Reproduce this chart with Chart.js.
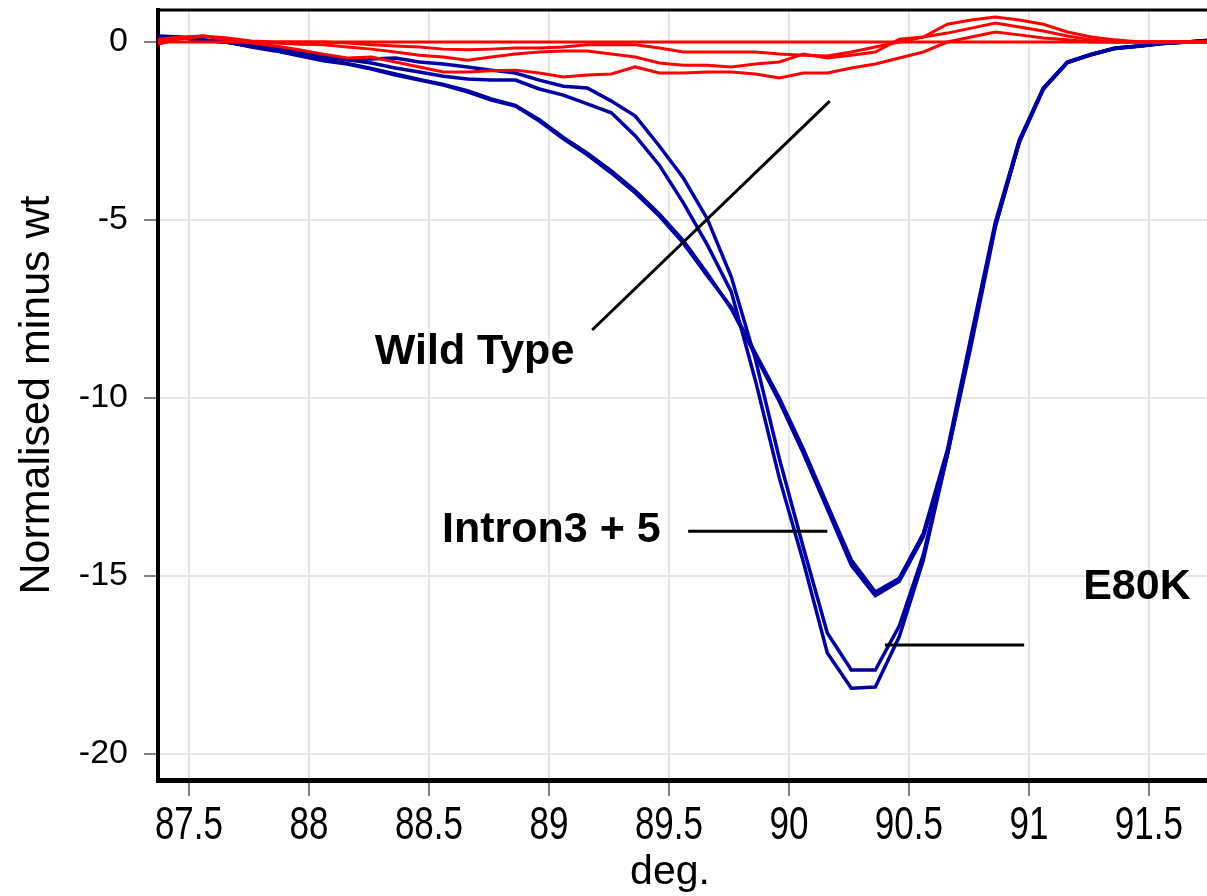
<!DOCTYPE html>
<html><head><meta charset="utf-8">
<script src="https://cdn.jsdelivr.net/npm/chart.js@4.4.1/dist/chart.umd.min.js"></script>
<style>html,body{margin:0;padding:0;background:#fff;}canvas{display:block;}</style>
</head><body>
<canvas id="c" width="1207" height="896"></canvas>
<script>
// ---- data ----
const degrees = [87.36,87.46,87.56,87.66,87.76,87.86,87.96,88.06,88.16,88.26,88.36,88.46,88.56,88.66,88.76,88.86,88.96,89.06,89.16,89.26,89.36,89.46,89.56,89.66,89.76,89.86,89.96,90.06,90.16,90.26,90.36,90.46,90.56,90.66,90.76,90.86,90.96,91.06,91.16,91.26,91.36,91.46,91.56,91.66,91.76];

const wtRef = [0,0,0,0,0,0,0,0,0,0,0,0,0,0,0,0,0,0,0,0,0,0,0,0,0,0,0,0,0,0,0,0,0,0,0,0,0,0,0,0,0,0,0,0,0];
const wt1 = [0.06,0.14,0.17,0.11,0.03,0.00,0.00,0.00,-0.03,-0.08,-0.11,-0.14,-0.20,-0.22,-0.20,-0.17,-0.17,-0.14,-0.08,-0.08,-0.08,-0.17,-0.28,-0.28,-0.28,-0.28,-0.34,-0.37,-0.39,-0.28,-0.14,0.00,0.14,0.25,0.39,0.53,0.42,0.31,0.17,0.06,0.00,0.00,0.00,0.00,0.00];
const wt2 = [0.00,0.11,0.17,0.08,0.00,-0.03,-0.06,-0.08,-0.14,-0.20,-0.28,-0.37,-0.42,-0.51,-0.42,-0.34,-0.28,-0.25,-0.25,-0.34,-0.42,-0.59,-0.65,-0.65,-0.70,-0.62,-0.56,-0.34,-0.45,-0.37,-0.28,0.08,0.14,0.50,0.62,0.70,0.62,0.50,0.28,0.14,0.06,0.00,0.00,0.00,0.00];
const wt3 = [-0.08,0.08,0.17,0.06,-0.03,-0.11,-0.22,-0.34,-0.45,-0.42,-0.56,-0.70,-0.84,-0.84,-0.81,-0.79,-0.87,-0.98,-0.93,-0.90,-0.70,-0.87,-0.87,-0.84,-0.84,-0.90,-1.01,-0.87,-0.87,-0.73,-0.62,-0.45,-0.28,0.00,0.14,0.28,0.20,0.11,0.06,0.00,0.00,0.00,0.00,0.00,0.00];

const intron3 = [0.17,0.14,0.06,0.00,-0.14,-0.25,-0.39,-0.53,-0.62,-0.76,-0.93,-1.07,-1.21,-1.40,-1.63,-1.80,-2.22,-2.72,-3.17,-3.68,-4.24,-4.89,-5.65,-6.57,-7.45,-8.74,-10.00,-11.43,-13.00,-14.55,-15.45,-15.06,-13.80,-11.46,-8.23,-5.06,-2.75,-1.29,-0.56,-0.34,-0.17,-0.11,-0.03,0.00,0.05];
const intron5 = [0.15,0.12,0.05,-0.01,-0.12,-0.23,-0.37,-0.50,-0.60,-0.74,-0.90,-1.05,-1.19,-1.37,-1.60,-1.78,-2.18,-2.68,-3.12,-3.62,-4.18,-4.83,-5.58,-6.50,-7.50,-8.80,-10.10,-11.55,-13.12,-14.70,-15.55,-15.15,-13.90,-11.60,-8.35,-5.15,-2.80,-1.32,-0.58,-0.35,-0.18,-0.11,-0.04,0.00,0.04];
const e80kA = [0.16,0.13,0.05,-0.01,-0.08,-0.17,-0.25,-0.37,-0.50,-0.48,-0.45,-0.56,-0.62,-0.70,-0.79,-0.87,-1.07,-1.24,-1.29,-1.66,-2.08,-2.92,-3.82,-4.97,-6.60,-8.90,-11.70,-14.20,-16.60,-17.64,-17.64,-16.40,-14.40,-11.60,-8.50,-5.20,-2.82,-1.32,-0.58,-0.36,-0.18,-0.12,-0.04,0.00,0.05];
const e80kB = [0.16,0.13,0.05,-0.01,-0.11,-0.22,-0.34,-0.42,-0.50,-0.59,-0.73,-0.84,-0.96,-1.04,-1.07,-1.07,-1.32,-1.49,-1.74,-1.99,-2.64,-3.46,-4.52,-5.70,-7.02,-9.50,-12.25,-14.60,-17.16,-18.15,-18.12,-16.70,-14.55,-11.60,-8.37,-5.14,-2.78,-1.30,-0.57,-0.35,-0.17,-0.11,-0.03,0.00,0.05];

const xTickValues = [87.5,88,88.5,89,89.5,90,90.5,91,91.5];
const xTickLabels = ['87.5','88','88.5','89','89.5','90','90.5','91','91.5'];
const yTickValues = [0,-5,-10,-15,-20];
const yTickLabels = ['0','-5','-10','-15','-20'];

const xTitle = 'deg.';
const yTitle = 'Normalised minus wt';

// annotations (data coordinates)
const noteTexts = ['Wild Type','Intron3 + 5','E80K'];
const noteTextX = [88.69, 89.01, 91.45];
const noteTextY = [-8.71, -13.70, -15.30];
const noteLineX1 = [89.18, 89.58, 90.40];
const noteLineY1 = [-8.09, -13.74, -16.94];
const noteLineX2 = [90.17, 90.16, 90.98];
const noteLineY2 = [-1.66, -13.74, -16.94];

// ---- chart ----
const RED = '#ff0000';
const BLUE = '#0000a0';
const FONT = '"Liberation Sans", Arial, sans-serif';

function pts(ys){ return degrees.map((x,i)=>({x:x,y:ys[i]})); }
function ds(label, ys, color, w){
  return {label, data: pts(ys), borderColor: color, backgroundColor: color,
    borderWidth: w, pointRadius: 0, tension: 0, fill: false};
}

const annotPlugin = {
  id: 'annot',
  afterDatasetsDraw(chart){
    const ctx = chart.ctx, xs = chart.scales.x, ys = chart.scales.y, a = chart.chartArea;
    ctx.save();
    // top frame line
    ctx.strokeStyle = '#000'; ctx.lineWidth = 3;
    ctx.beginPath(); ctx.moveTo(a.left-2, a.top); ctx.lineTo(a.right, a.top); ctx.stroke();
    // pointer lines
    ctx.lineWidth = 3; ctx.lineCap = 'butt';
    for (let i=0;i<noteTexts.length;i++){
      ctx.beginPath();
      ctx.moveTo(xs.getPixelForValue(noteLineX1[i]), ys.getPixelForValue(noteLineY1[i]));
      ctx.lineTo(xs.getPixelForValue(noteLineX2[i]), ys.getPixelForValue(noteLineY2[i]));
      ctx.stroke();
    }
    ctx.fillStyle = '#000';
    ctx.font = 'bold 43px ' + FONT;
    ctx.textAlign = 'center'; ctx.textBaseline = 'middle';
    for (let i=0;i<noteTexts.length;i++){
      ctx.fillText(noteTexts[i], xs.getPixelForValue(noteTextX[i]), ys.getPixelForValue(noteTextY[i]));
    }
    ctx.restore();
  },
  afterDraw(chart){
    const ctx = chart.ctx, xs = chart.scales.x;
    ctx.save();
    ctx.fillStyle = '#000';
    // x tick labels (slightly tall, narrow face as in the reference)
    ctx.font = '35px ' + FONT;
    ctx.textAlign = 'center'; ctx.textBaseline = 'alphabetic';
    xTickValues.forEach((v, i) => {
      const px = xs.getPixelForValue(v);
      ctx.save();
      ctx.translate(px, 839);
      ctx.scale(1, 1.3);
      ctx.fillText(xTickLabels[i], 0, 0);
      ctx.restore();
    });
    // x title
    ctx.font = '41px ' + FONT;
    ctx.textAlign = 'center'; ctx.textBaseline = 'alphabetic';
    ctx.fillText(xTitle, 670, 884);
    ctx.restore();
  }
};

new Chart(document.getElementById('c'), {
  type: 'line',
  data: { datasets: [
    ds('wt ref', wtRef, RED, 3),
    ds('wt 1', wt1, RED, 3),
    ds('wt 2', wt2, RED, 3),
    ds('wt 3', wt3, RED, 3),
    ds('Intron3', intron3, BLUE, 3.5),
    ds('Intron5', intron5, BLUE, 3.5),
    ds('E80K a', e80kA, BLUE, 3.5),
    ds('E80K b', e80kB, BLUE, 3.5)
  ]},
  options: {
    responsive: false,
    animation: false,
    devicePixelRatio: 1,
    layout: { padding: { top: 10, right: 0, left: 0, bottom: 0 } },
    plugins: { legend: { display: false }, tooltip: { enabled: false } },
    scales: {
      x: {
        type: 'linear', min: 87.371, max: 91.742,
        afterBuildTicks: s => { s.ticks = xTickValues.map(v => ({value: v})); },
        afterFit: s => { s.height = 116; s.paddingLeft = 0; s.paddingRight = 0; },
        grid: { color: '#e5e5e5', lineWidth: 2, drawTicks: true, tickLength: 16, tickColor: '#808080', tickWidth: 2 },
        border: { display: true, color: '#000', width: 5 },
        ticks: { display: false, autoSkip: false, maxRotation: 0 },
        title: { display: false }
      },
      y: {
        type: 'linear', min: -20.73, max: 0.899,
        afterBuildTicks: s => { s.ticks = yTickValues.map(v => ({value: v})); },
        afterFit: s => { s.width = 158; s.paddingTop = 0; s.paddingBottom = 0; },
        grid: { color: '#e5e5e5', lineWidth: 2, drawTicks: true, tickLength: 14, tickColor: '#808080', tickWidth: 2 },
        border: { display: true, color: '#000', width: 4 },
        ticks: { autoSkip: false, padding: 16, color: '#000',
          font: { family: FONT, size: 34 },
          callback: (v) => { const i = yTickValues.indexOf(v); return i >= 0 ? yTickLabels[i] : ''; } },
        title: { display: true, text: yTitle, color: '#000', font: { family: FONT, size: 43 }, padding: { top: 11, bottom: 0 } }
      }
    }
  },
  plugins: [annotPlugin]
});
</script>
</body></html>
